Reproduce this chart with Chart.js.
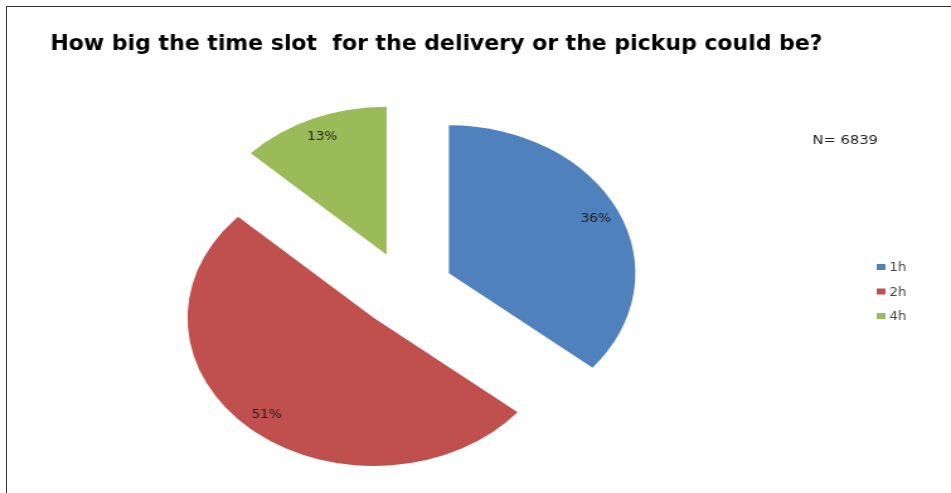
<!DOCTYPE html>
<html>
<head>
<meta charset="utf-8">
<script src="https://cdn.jsdelivr.net/npm/chart.js@4.4.1/dist/chart.umd.min.js"></script>
<style>
  html, body { margin: 0; padding: 0; background: #fff; }
  #wrap { position: relative; width: 951px; height: 493px; overflow: hidden; }
  #frame { position: absolute; left: 6px; top: 6px; right: -2px; bottom: -2px;
           border-top: 1px solid #333; border-left: 1px solid #333; }
  #stretch { position: absolute; left: 0; top: 0; transform-origin: 0 0; transform: scaleX(1.2596); }
</style>
</head>
<body>
<div id="wrap">
  <div id="stretch"><canvas id="pie" width="755" height="530"></canvas></div>
  <div id="frame"></div>
</div>
<script>
window.addEventListener("DOMContentLoaded", () => {
    const title = 'How big the time slot  for the delivery or the pickup could be?';
    const labels = ['1h', '2h', '4h'];
    const shares = [36, 51, 13];
    const colors = ['#4F81BD', '#C0504D', '#9BBB59'];
    const sampleSize = 'N= 6839';

    const FONT = "'Liberation Sans Narrow', 'DejaVu Sans Condensed', 'Liberation Sans', sans-serif";
    const EXPLODE = 38;

    // pull every slice out along its bisector (excel style explosion)
    const explodePlugin = {
        id: 'explode',
        afterDatasetsUpdate(chart) {
            const ca = chart.chartArea;
            const cx = (ca.left + ca.right) / 2, cy = (ca.top + ca.bottom) / 2;
            chart.getDatasetMeta(0).data.forEach(arc => {
                const mid = (arc.startAngle + arc.endAngle) / 2;
                arc.x = cx + Math.cos(mid) * EXPLODE;
                arc.y = cy + Math.sin(mid) * EXPLODE;
            });
        }
    };

    // title, percent labels, N text and the small legend on the right
    const extrasPlugin = {
        id: 'extras',
        afterDatasetsDraw(chart) {
            const ctx = chart.ctx;
            const ds = chart.data.datasets[0];
            ctx.save();
            ctx.textBaseline = 'middle';

            ctx.textAlign = 'left';
            ctx.font = 'bold 21px ' + FONT;
            ctx.fillStyle = '#000';
            ctx.fillText(title, 40, 45, 613);

            ctx.textAlign = 'center';
            ctx.font = '12px ' + FONT;
            ctx.fillStyle = '#1e1e1e';
            chart.getDatasetMeta(0).data.forEach((arc, i) => {
                const mid = (arc.startAngle + arc.endAngle) / 2;
                const r = arc.outerRadius * 0.87;
                ctx.fillText(ds.data[i] + '%', arc.x + Math.cos(mid) * r, arc.y + Math.sin(mid) * r);
            });

            ctx.textAlign = 'left';
            ctx.font = '13px ' + FONT;
            ctx.fillStyle = '#222';
            ctx.fillText(sampleSize, 645, 141);

            ctx.font = '12px ' + FONT;
            chart.data.labels.forEach((lab, i) => {
                const y = 267 + i * 24.5;
                ctx.fillStyle = ds.backgroundColor[i];
                ctx.fillRect(696, y - 3, 7, 6);
                ctx.fillStyle = '#444';
                ctx.fillText(lab, 706, y + 1);
            });
            ctx.restore();
        }
    };

    const ctx = document.getElementById('pie').getContext('2d');
    new Chart(ctx, {
        type: 'pie',
        data: {
            labels: labels,
            datasets: [{
                data: shares,
                backgroundColor: colors,
                borderWidth: 0,
                clip: false
            }]
        },
        options: {
            responsive: false,
            animation: false,
            events: [],
            radius: 148,
            layout: { padding: { left: 40, right: 151, top: 59, bottom: 10 } },
            plugins: {
                legend: { display: false },
                tooltip: { enabled: false },
                title: { display: false }
            }
        },
        plugins: [explodePlugin, extrasPlugin]
    });
});
</script>
</body>
</html>
